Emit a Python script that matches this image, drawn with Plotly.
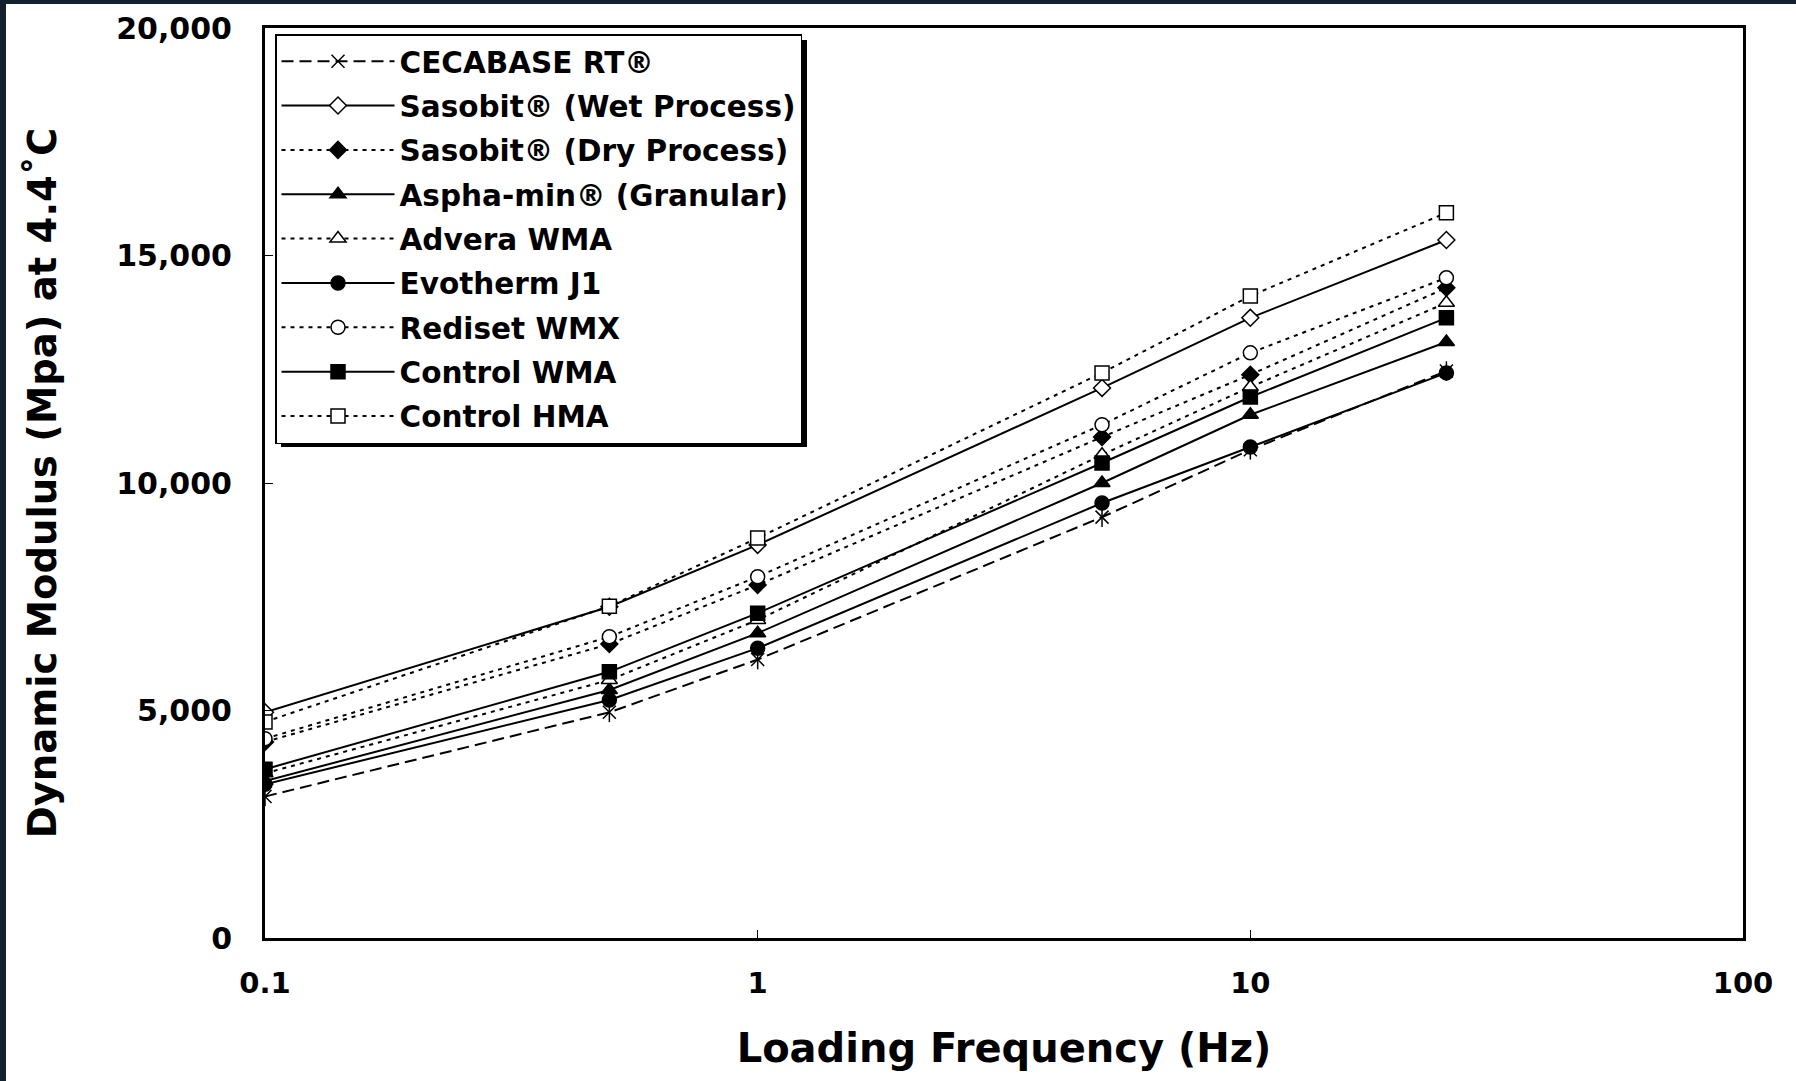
import plotly.graph_objects as go

# ---- data ----
freq = [0.1, 0.5, 1, 5, 10, 25]
series_names = [
    "CECABASE RT®",
    "Sasobit® (Wet Process)",
    "Sasobit® (Dry Process)",
    "Aspha-min® (Granular)",
    "Advera WMA",
    "Evotherm J1",
    "Rediset WMX",
    "Control WMA",
    "Control HMA",
]
cecabase = [3110, 4960, 6120, 9250, 10730, 12460]
sasobit_wet = [4960, 7280, 8640, 12090, 13630, 15340]
sasobit_dry = [4310, 6460, 7760, 11010, 12380, 14290]
aspha_min = [3450, 5450, 6700, 10000, 11500, 13100]
advera = [3620, 5670, 6990, 10620, 12110, 13960]
evotherm = [3380, 5230, 6370, 9560, 10790, 12420]
rediset = [4380, 6620, 7940, 11280, 12860, 14510]
control_wma = [3710, 5850, 7140, 10440, 11890, 13630]
control_hma = [4750, 7290, 8790, 12420, 14110, 15940]

x_tickvals = [0.1, 1, 10, 100]
x_ticktext = ["0.1", "1", "10", "100"]
y_tickvals = [0, 5000, 10000, 15000, 20000]

FONT = "DejaVu Sans"
DOT = "4px,5px"
DASH = "12px,6px"

styles = [
    # (values, dash, symbol, fill)
    (cecabase, DASH, "x-thin-open", "black"),
    (sasobit_wet, "solid", "diamond", "white"),
    (sasobit_dry, DOT, "diamond", "black"),
    (aspha_min, "solid", "triangle-up", "black"),
    (advera, DOT, "triangle-up", "white"),
    (evotherm, "solid", "circle", "black"),
    (rediset, DOT, "circle", "white"),
    (control_wma, "solid", "square", "black"),
    (control_hma, DOT, "square", "white"),
]
sizes = {"x-thin-open": 13, "diamond": 13, "triangle-up": 14, "circle": 14, "square": 14}

fig = go.Figure()
for i, (name, (vals, dash, sym, fill)) in enumerate(zip(series_names, styles)):
    fig.add_trace(go.Scatter(
        x=freq, y=vals, name=name, mode="lines+markers",
        legendgroup=f"g{i}",
        line=dict(color="black", width=2, dash=dash),
        marker=dict(symbol=sym, size=sizes[sym], color=fill,
                    line=dict(color="black", width=1.5)),
    ))
    if i == 0:
        # vertical stroke to complete the 6-armed star marker
        fig.add_trace(go.Scatter(
            x=freq, y=vals, mode="markers", showlegend=False, legendgroup="g0",
            marker=dict(symbol="line-ns-open", size=14, color="black",
                        line=dict(color="black", width=1.5)),
            hoverinfo="skip",
        ))

L, R, T, B = 265, 53, 28, 143
W, H = 1796, 1081
pw, ph = W - L - R, H - T - B


def px_x(px):
    return (px - L) / pw


def px_y(py):
    return (H - B - py) / ph


shapes = [
    # legend drop shadow
    dict(type="rect", xref="paper", yref="paper",
         x0=px_x(281), x1=px_x(807), y0=px_y(447), y1=px_y(40),
         fillcolor="black", line=dict(width=0), layer="above"),
    # dark slide frame (top & left)
    dict(type="rect", xref="paper", yref="paper",
         x0=px_x(0), x1=px_x(W), y0=px_y(4), y1=px_y(0),
         fillcolor="#15202e", line=dict(width=0), layer="above"),
    dict(type="rect", xref="paper", yref="paper",
         x0=px_x(0), x1=px_x(6), y0=px_y(H), y1=px_y(0),
         fillcolor="#15202e", line=dict(width=0), layer="above"),
]

fig.update_layout(
    width=W, height=H,
    margin=dict(l=L, r=R, t=T, b=B, autoexpand=False),
    paper_bgcolor="white", plot_bgcolor="white",
    font=dict(family=FONT, color="black", size=29, weight="bold"),
    showlegend=True,
    legend=dict(
        x=px_x(275), y=px_y(34), xanchor="left", yanchor="top",
        bgcolor="white", bordercolor="black", borderwidth=1.5,
        font=dict(family=FONT, size=29.5, color="black", weight="bold"),
        traceorder="grouped", tracegroupgap=3, itemwidth=113,
    ),
    shapes=shapes,
    xaxis=dict(
        type="log", range=[-1, 2], tickvals=x_tickvals, ticktext=x_ticktext,
        showgrid=False, zeroline=False, showline=True, linecolor="black",
        linewidth=3, mirror=True, ticks="inside", ticklen=8, tickwidth=1,
        tickcolor="black", ticklabelstandoff=17,
        tickfont=dict(family=FONT, size=29, weight="bold"),
        title=dict(text="Loading Frequency (Hz)", standoff=36,
                   font=dict(family=FONT, size=40, weight="bold")),
        automargin=False,
    ),
    yaxis=dict(
        range=[0, 20000], tickvals=y_tickvals, tickformat=",",
        showgrid=False, zeroline=False, showline=True, linecolor="black",
        linewidth=3, mirror=True, ticks="inside", ticklen=8, tickwidth=1,
        tickcolor="black", ticklabelstandoff=24,
        tickfont=dict(family=FONT, size=30, weight="bold"),
        title=dict(text="Dynamic Modulus (Mpa) at 4.4˚C", standoff=48,
                   font=dict(family=FONT, size=38.5, weight="bold")),
        automargin=False,
    ),
)

fig.write_html("out.html")
